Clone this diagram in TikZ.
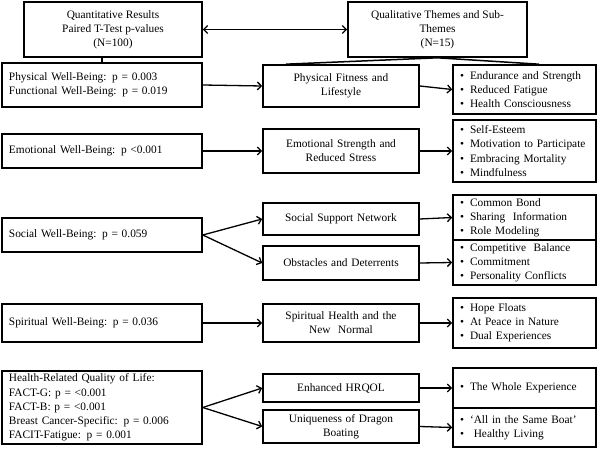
\documentclass[tikz,border=0pt]{standalone}
\usepackage{fontspec}
\setmainfont{Liberation Serif}
\newfontfamily\tnr{Liberation Serif}
\usetikzlibrary{arrows.meta,calc}
\newcommand\bl{\makebox[10bp][l]{•}}
\begin{document}
\begin{tikzpicture}[x=1bp,y=-1bp,
  txt/.style={font=\tnr\fontsize{11.4}{14.2}\selectfont},
  box/.style={txt,draw,line width=1.6bp,inner ysep=0pt},
  topbox/.style={box,minimum height=55bp,align=center,inner xsep=3bp},
  lbox/.style={box,minimum width=200bp,text width=186bp,align=left,inner xsep=7bp,minimum height=#1},
  mbox/.style={box,minimum width=156bp,text width=150bp,align=center,inner xsep=3bp,minimum height=#1},
  bbox/.style={box,minimum width=143bp,text width=129bp,align=left,inner xsep=7bp,minimum height=#1},
  arr/.style={line width=1.3bp,-{Straight Barb[length=4bp,width=8bp,line width=1.3bp]}},
  ln/.style={line width=1.5bp}
]
\useasboundingbox (0,0) rectangle (600,449);

% top boxes
\node[topbox,minimum width=178bp] (quant) at (113,29.5) {Quantitative Results\\Paired T-Test p-values\\(N=100)};
\node[topbox,minimum width=179bp] (qual) at (437.5,29.5) {Qualitative Themes and Sub-\\Themes\\(N=15)};

% left column
\node[lbox=44bp] (phys) at (102,85) {Physical Well-Being: p = 0.003\\Functional Well-Being: p = 0.019};
\node[lbox=34bp] (emo) at (102,151) {Emotional Well-Being: p <0.001};
\node[lbox=34bp] (soc) at (102,235) {Social Well-Being: p = 0.059};
\node[lbox=38bp] (spir) at (102,323) {Spiritual Well-Being: p = 0.036};
\node[lbox=73bp] (hrql) at (102,407.5) {Health-Related Quality of Life:\\FACT-G: p = <0.001\\FACT-B: p = <0.001\\Breast Cancer-Specific: p = 0.006\\FACIT-Fatigue: p = 0.001};

% middle column
\node[mbox=42bp] (pf) at (341,86) {Physical Fitness and\\Lifestyle};
\node[mbox=44bp] (esrs) at (341,151) {Emotional Strength and\\Reduced Stress};
\node[mbox=32bp] (ssn) at (341,219) {Social Support Network};
\node[mbox=34bp] (obs) at (341,263) {Obstacles and Deterrents};
\node[mbox=38bp] (shnn) at (341,323) {Spiritual Health and the\\New\ \ Normal};
\node[mbox=28bp] (enh) at (341,388) {Enhanced HRQOL};
\node[mbox=33bp] (uniq) at (341,426.5) {Uniqueness of Dragon\\Boating};

% right column
\node[bbox=49bp] (b1) at (524.5,89.5) {\bl Endurance and Strength\\\bl Reduced Fatigue\\\bl Health Consciousness};
\node[bbox=62bp] (b2) at (524.5,151) {\bl Self-Esteem\\\bl Motivation to Participate\\\bl Embracing Mortality\\\bl Mindfulness};
\node[bbox=45bp] (b3) at (524.5,217.5) {\bl Common Bond\\\bl Sharing\ \ Information\\\bl Role Modeling};
\node[bbox=45bp] (b4) at (524.5,262.5) {\bl Competitive\ \ Balance\\\bl Commitment\\\bl Personality Conflicts};
\node[bbox=50bp] (b5) at (524.5,323) {\bl Hope Floats\\\bl At Peace in Nature\\\bl Dual Experiences};
\node[bbox=40bp] (b6) at (524.5,388) {\bl The Whole Experience};
\node[bbox=39bp] (b7) at (524.5,427.5) {\bl ‘All in the Same Boat’\\\bl\ Healthy Living};

% connectors
\draw[line width=1.3bp,{Straight Barb[length=4bp,width=8bp,line width=1.3bp]}-{Straight Barb[length=4bp,width=8bp,line width=1.3bp]}] (quant.east) -- (qual.west);
\draw[ln] (phys.north) -- (phys.north |- quant.south);
\draw[ln] (qual.south) -- ($(pf.north west)!0.15!(pf.north east)$);
\draw[ln] (qual.south) -- ($(b1.north west)!0.6!(b1.north east)$);

\draw[arr] (phys.east) -- (pf.west);
\draw[arr] (pf.east) -- (b1.west);
\draw[arr] (emo.east) -- (esrs.west);
\draw[arr] (esrs.east) -- (b2.west);
\draw[arr] (soc.east) -- (ssn.west);
\draw[arr] (soc.east) -- (obs.west);
\draw[arr] (ssn.east) -- (b3.west);
\draw[arr] (obs.east) -- (b4.west);
\draw[arr] (spir.east) -- (shnn.west);
\draw[arr] (shnn.east) -- (b5.west);
\draw[arr] (hrql.east) -- (enh.west);
\draw[arr] (hrql.east) -- (uniq.west);
\draw[arr] (enh.east) -- (b6.west);
\draw[arr] (uniq.east) -- (b7.west);
\end{tikzpicture}
\end{document}
